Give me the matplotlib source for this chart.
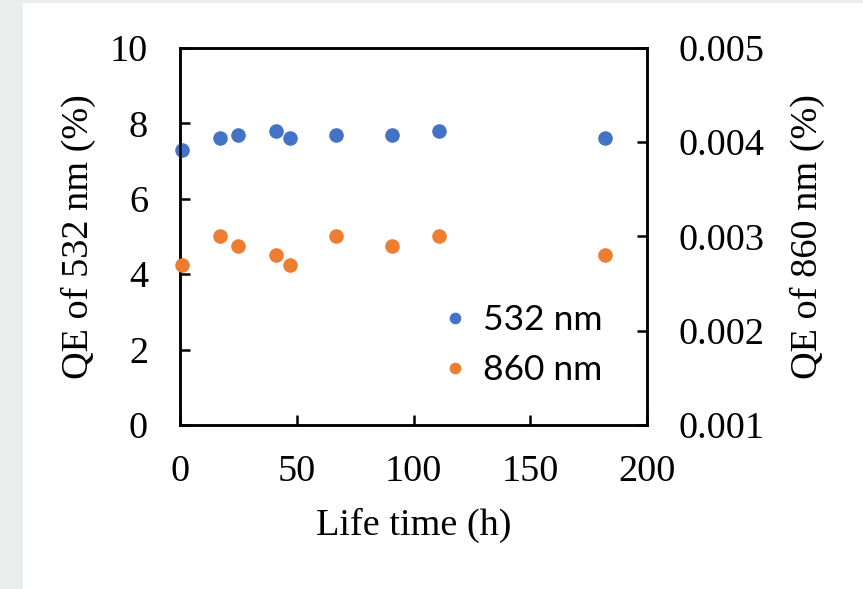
import numpy as np
import matplotlib.pyplot as plt
from matplotlib.patches import Rectangle

# life time (h) and QE readings
hours = [1, 17, 25, 41, 47, 67, 91, 111, 182]
qe_532 = [7.3, 7.6, 7.7, 7.8, 7.6, 7.7, 7.7, 7.8, 7.6]
qe_860 = [0.0027, 0.0030, 0.0029, 0.0028, 0.0027, 0.0030, 0.0029, 0.0030, 0.0028]

blue = '#4472C4'
orange = '#ED7D31'

plt.rcParams['font.family'] = ['Liberation Serif', 'DejaVu Serif']

fig = plt.figure(figsize=(8.63, 5.89), dpi=100)
# light grey page edge on the left and top
fig.patches.append(Rectangle((0, 0), 23/863, 1, transform=fig.transFigure,
                             facecolor='#ebecec', edgecolor='none', zorder=-1))
fig.patches.append(Rectangle((0, 1 - 3/589), 1, 3/589, transform=fig.transFigure,
                             facecolor='#ebecec', edgecolor='none', zorder=-1))

ax = fig.add_axes([180/863, 164/589, 467/863, 377/589])
ax2 = ax.twinx()

l1, = ax.plot(hours, qe_532, 'o', color=blue, markersize=10.5, markeredgewidth=0,
              clip_on=False, zorder=5)
l2, = ax2.plot(hours, qe_860, 'o', color=orange, markersize=10.5, markeredgewidth=0,
               clip_on=False, zorder=5)

ax.set_xlim(0, 200)
ax.set_ylim(0, 10)
ax2.set_ylim(0.001, 0.005)
ax.set_xticks([0, 50, 100, 150, 200])
ax.set_yticks([0, 2, 4, 6, 8, 10])
ax2.set_yticks([0.001, 0.002, 0.003, 0.004, 0.005])
ax2.set_yticklabels(['0.001', '0.002', '0.003', '0.004', '0.005'])

fs = 27.5
for a in (ax, ax2):
    for s in a.spines.values():
        s.set_linewidth(1.8)
    a.tick_params(direction='in', length=7, width=1.8, labelsize=fs, pad=23)
ax.tick_params(axis='x', pad=21)

ax.set_xlabel('Life time (h)', fontsize=fs, labelpad=14)
ax.set_ylabel('QE of 532 nm (%)', fontsize=fs, labelpad=10)
ax2.set_ylabel('QE of 860 nm (%)', fontsize=fs, labelpad=18)

leg = ax2.legend([l1, l2], ['532 nm', '860 nm'], loc='center left',
                 bbox_to_anchor=(0.498, 0.212), frameon=False,
                 prop={'family': 'Lato', 'size': 25.5}, markerscale=0.8,
                 handlelength=0.6, handletextpad=0.5, labelspacing=0.5)

fig.savefig('out.png', dpi=100, facecolor='white')
